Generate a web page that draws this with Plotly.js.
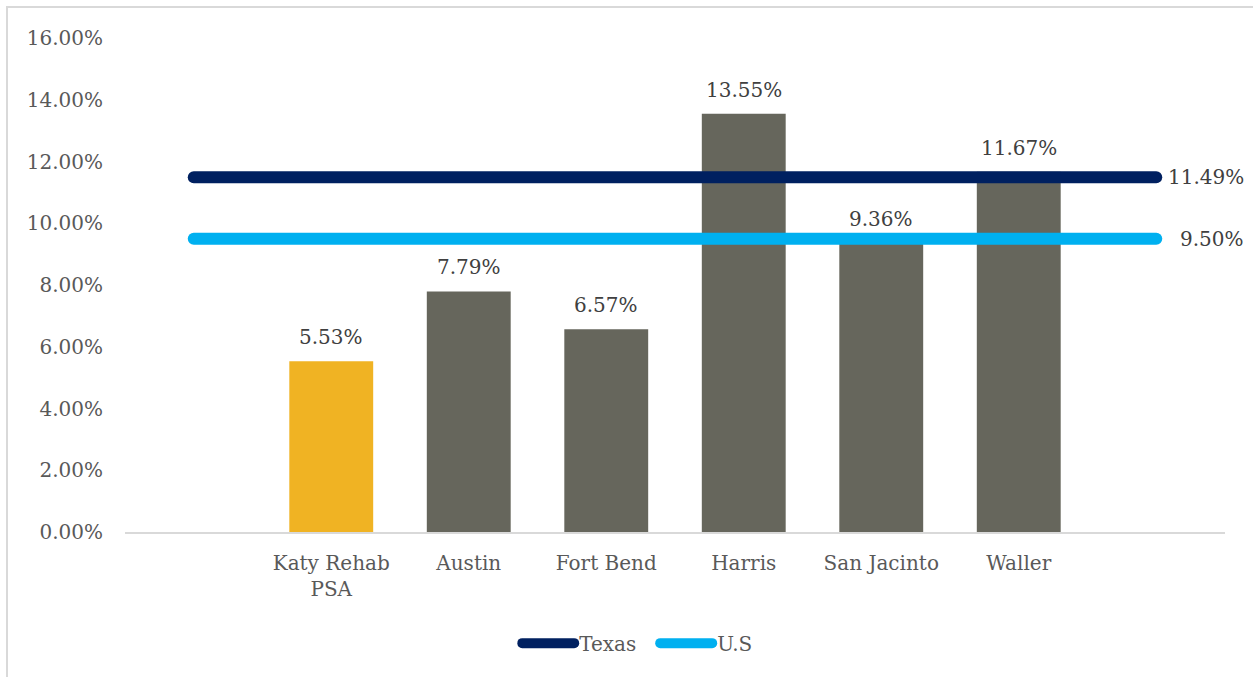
<!DOCTYPE html>
<html>
<head>
<meta charset="utf-8">
<script src="https://cdn.plot.ly/plotly-3.0.1.min.js"></script>
<style>
  html, body { margin: 0; padding: 0; background: #ffffff; overflow: hidden; }
  #frame { position: absolute; left: 6px; top: 6px; width: 1260px; height: 690px;
           border: 2px solid #d9d9d9; box-sizing: border-box; pointer-events: none; z-index: 5; }
  #chart { position: absolute; left: 0; top: 0; width: 1253px; height: 677px; }
  .scatterlayer .js-line { stroke-linecap: round; }
  .legendlines path { stroke-linecap: round; }
</style>
</head>
<body>
<div id="chart"></div>
<div id="frame"></div>
<script>
// ---- data ----
const categories = ["Katy Rehab<br>PSA", "Austin", "Fort Bend", "Harris", "San Jacinto", "Waller"];
const barValues = [5.53, 7.79, 6.57, 13.55, 9.36, 11.67];
const barColors = ["#F0B323", "#66665C", "#66665C", "#66665C", "#66665C", "#66665C"];
const texasValue = 11.49;
const usValue = 9.50;
const yTickVals = [0, 2, 4, 6, 8, 10, 12, 14, 16];
// ---------------

const barX = categories.map((c, i) => i + 1);
const lineX = [0, 1, 2, 3, 4, 5, 6, 7];
const FONT = "'DejaVu Serif', serif";
const FS = 20;

const traces = [
  {
    type: "bar", x: barX, y: barValues,
    marker: { color: barColors }, showlegend: false, hoverinfo: "skip"
  },
  {
    type: "scatter", mode: "lines", name: "Texas",
    x: lineX, y: lineX.map(() => texasValue),
    line: { color: "#002060", width: 12 }, hoverinfo: "skip"
  },
  {
    type: "scatter", mode: "lines", name: "U.S",
    x: lineX, y: lineX.map(() => usValue),
    line: { color: "#00B0F0", width: 12 }, hoverinfo: "skip"
  }
];

const annotations = barValues.map((v, i) => ({
  x: barX[i], y: v, xref: "x", yref: "y",
  text: v.toFixed(2) + "%", showarrow: false,
  yanchor: "bottom", yshift: 10,
  font: { family: FONT, size: FS, color: "#404040" }
}));
[texasValue, usValue].forEach(v => {
  annotations.push({
    x: lineX[lineX.length - 1], y: v, xref: "x", yref: "y",
    text: v.toFixed(2) + "%", showarrow: false,
    xanchor: "right", xshift: 90,
    font: { family: FONT, size: FS, color: "#404040" }
  });
});

const layout = {
  width: 1253, height: 677,
  margin: { l: 125, r: 28, t: 38, b: 145, autoexpand: false },
  paper_bgcolor: "rgba(0,0,0,0)", plot_bgcolor: "rgba(0,0,0,0)",
  font: { family: FONT, size: FS, color: "#595959" },
  bargap: 0.39,
  xaxis: {
    range: [-0.5, 7.5], tickmode: "array", tickvals: barX, ticktext: categories,
    showgrid: false, zeroline: false, showline: true, linecolor: "#d9d9d9", linewidth: 2,
    ticks: "outside", ticklen: 12, tickcolor: "rgba(0,0,0,0)",
    tickfont: { family: FONT, size: FS, color: "#595959" },
    fixedrange: true
  },
  yaxis: {
    range: [0, 16], tickmode: "array", tickvals: yTickVals,
    ticktext: yTickVals.map(v => v.toFixed(2) + "%"),
    showgrid: false, zeroline: false, showline: false,
    ticks: "outside", ticklen: 17, tickcolor: "rgba(0,0,0,0)",
    tickfont: { family: FONT, size: FS, color: "#595959" },
    fixedrange: true
  },
  showlegend: true,
  legend: {
    orientation: "h", x: 0.482, xanchor: "center", y: -0.225, yanchor: "middle",
    itemwidth: 52, entrywidth: 71, entrywidthmode: "pixels", tracegroupgap: 0,
    font: { family: FONT, size: FS, color: "#595959" }
  },
  annotations: annotations
};

Plotly.newPlot("chart", traces, layout, { staticPlot: true, displayModeBar: false });
</script>
</body>
</html>
